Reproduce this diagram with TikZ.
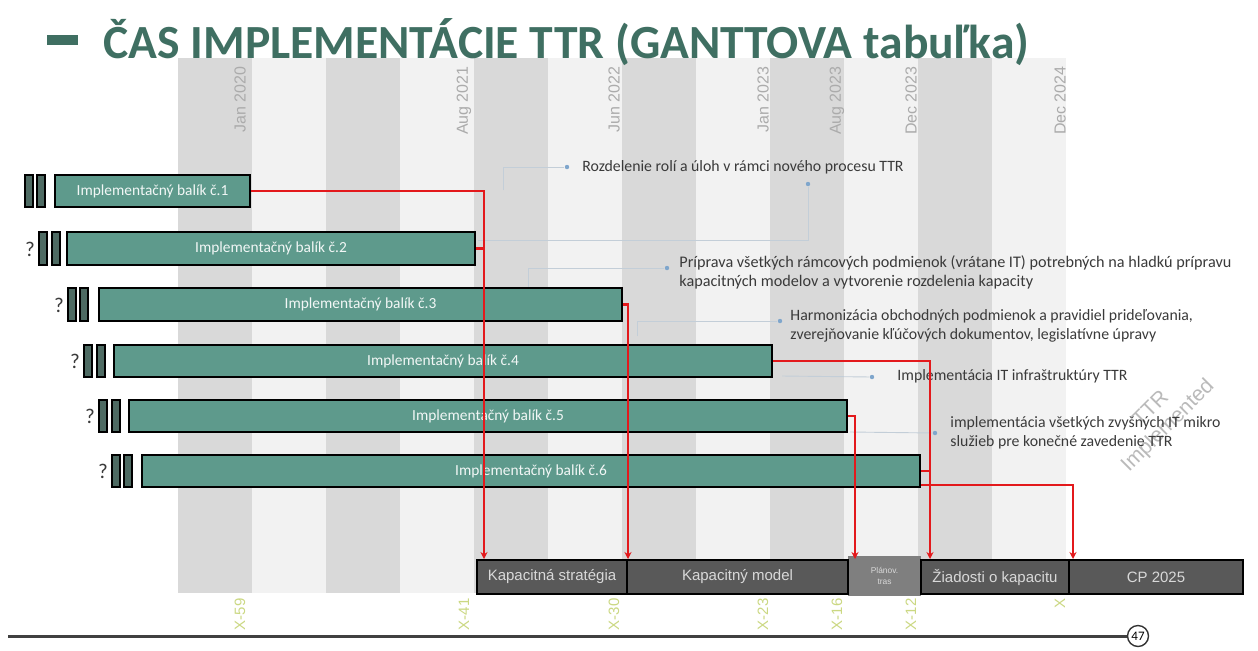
\documentclass[tikz,border=0pt]{standalone}
\usepackage{fontspec}
\setmainfont{Carlito}
\newfontfamily\arialf{Liberation Sans}
\usetikzlibrary{fit,arrows.meta}
\definecolor{titlecol}{HTML}{3F6F62}
\definecolor{barfill}{HTML}{5E9A8C}
\definecolor{prefill}{HTML}{4E6B63}
\definecolor{stripeD}{HTML}{D9D9D9}
\definecolor{stripeL}{HTML}{F2F2F2}
\definecolor{datecol}{HTML}{ABABAB}
\definecolor{xcol}{HTML}{CBD882}
\definecolor{redc}{HTML}{E3191C}
\definecolor{segcol}{HTML}{595959}
\definecolor{segcolL}{HTML}{7F7F7F}
\definecolor{anncol}{HTML}{3A3A3A}
\definecolor{thincol}{HTML}{C3CED8}
\definecolor{dotcol}{HTML}{7FA6CC}
\begin{document}
\begin{tikzpicture}[x=0.5pt,y=-0.5pt,
  bar/.style={draw=black, line width=1pt, fill=barfill, inner sep=0pt},
  barlbl/.style={text=white!92!barfill, inner sep=0pt, font=\fontsize{7.7}{8.5}\selectfont},
  prebox/.style={draw=black, line width=1pt, fill=prefill, inner sep=0pt},
  qm/.style={text=anncol, font=\fontsize{10.5}{12}\selectfont, inner sep=0pt},
  seg/.style={draw=black, line width=1pt, fill=segcol, inner sep=0pt},
  seglbl/.style={text=white!85!black, inner sep=0pt, font=\arialf\fontsize{7.5}{8.5}\selectfont},
  segL/.style={fill=segcolL, inner sep=0pt},
  segLlbl/.style={text=white!85!black, align=center, inner sep=0pt, font=\arialf\fontsize{4.2}{5.2}\selectfont},
  datelbl/.style={rotate=90, anchor=east, text=datecol, inner sep=0pt, font=\arialf\fontsize{8}{9}\selectfont},
  xlbl/.style={rotate=90, anchor=east, text=xcol, inner sep=0pt, font=\arialf\fontsize{7.5}{8.5}\selectfont},
  ann/.style={anchor=west, text=anncol, align=left, inner sep=0pt, font=\fontsize{7.9}{9.5}\selectfont},
  redline/.style={draw=redc, line width=1.2pt},
  redarrow/.style={redline, -{Stealth[length=3.5pt,width=3.5pt]}},
  thinline/.style={draw=thincol, line width=0.45pt},
  bullet/.style={circle, fill=dotcol, inner sep=0pt, minimum size=2.2pt},
]
\useasboundingbox (0,0) rectangle (1258,650);
\fill[white] (0,0) rectangle (1258,650);

% background stripes
\foreach \i in {0,2,...,10} \fill[stripeD] ({178+74*\i},58) rectangle ({178+74*(\i+1)},593);
\foreach \i in {1,3,...,11} \fill[stripeL] ({178+74*\i},58) rectangle ({178+74*(\i+1)},593);

% title
\fill[titlecol] (47,35) rectangle (78,45);
\node[anchor=base west, text=titlecol, inner sep=0pt, font=\bfseries\fontsize{23.8}{27}\selectfont] (title) at (103,58)
  {ČAS IMPLEMENTÁCIE TTR (GANTTOVA tabuľka)};

% date labels
\node[datelbl] (d2020) at (240,66) {Jan 2020};
\node[datelbl] (d2021) at (464,66) {Aug 2021};
\node[datelbl] (d2022) at (614,66) {Jun 2022};
\node[datelbl] (d2023a) at (763,66) {Jan 2023};
\node[datelbl] (d2023b) at (837,66) {Aug 2023};
\node[datelbl] (d2023c) at (911,66) {Dec 2023};
\node[datelbl] (d2024) at (1060,66) {Dec 2024};

% watermark
\node[rotate=45, text=black!27, align=center, inner sep=0pt, font=\arialf\fontsize{10.5}{12}\selectfont] (wm) at (1160,418) {TTR\\Implemented};

% thin annotation connectors
\coordinate (t1) at (503,190);
\coordinate (t2) at (478,240);
\coordinate (t3) at (528,289);
\coordinate (t4) at (637,336);
\coordinate (t5) at (782,376);
\coordinate (t6) at (850,432);
\node[bullet] (p1) at (567,167) {};
\node[bullet] (p1b) at (808,184) {};
\node[bullet] (p2) at (667,268) {};
\node[bullet] (p3) at (780,321) {};
\node[bullet] (p4) at (872,377) {};
\node[bullet] (p5) at (935,433) {};
\draw[thinline] (t1) |- (p1);
\draw[thinline] (t2) -| (p1b);
\draw[thinline] (t3) |- (p2);
\draw[thinline] (t4) |- (p3);
\draw[thinline] (t5) -- (p4);
\draw[thinline] (t6) -- (p5);

% annotations
\node[ann] (n1) at (582,167) {Rozdelenie rolí a úloh v rámci nového procesu TTR};
\node[ann, font=\fontsize{8.1}{9.6}\selectfont] (n2) at (679,272) {Príprava všetkých rámcových podmienok (vrátane IT) potrebných na hladkú prípravu\\kapacitných modelov a vytvorenie rozdelenia kapacity};
\node[ann] (n3) at (790,326) {Harmonizácia obchodných podmienok a pravidiel prideľovania,\\zverejňovanie kľúčových dokumentov, legislatívne úpravy};
\node[ann] (n4) at (897,376) {Implementácia IT infraštruktúry TTR};
\node[ann] (n5) at (950,433) {implementácia všetkých zvyšných IT mikro\\služieb pre konečné zavedenie TTR};

% bars
\node[bar, fit={(55,175)(250,207)}] (b1) {};
\node[bar, fit={(67,232)(475,265)}] (b2) {};
\node[bar, fit={(99,288)(622,321)}] (b3) {};
\node[bar, fit={(114,345)(772,377)}] (b4) {};
\node[bar, fit={(129,400)(847,432)}] (b5) {};
\node[bar, fit={(142,455)(920,487)}] (b6) {};
\node[barlbl] (l1) at (b1.center) {Implementačný balík č.1};
\node[barlbl] (l2) at (b2.center) {Implementačný balík č.2};
\node[barlbl] (l3) at (b3.center) {Implementačný balík č.3};
\node[barlbl] (l4) at (b4.center) {Implementačný balík č.4};
\node[barlbl] (l5) at (b5.center) {Implementačný balík č.5};
\node[barlbl] (l6) at (b6.center) {Implementačný balík č.6};

% small boxes before bars
\node[prebox, fit={(25,175)(33,207)}] (b1a) {};
\node[prebox, fit={(37,175)(45,207)}] (b1b) {};
\node[prebox, fit={(39,232)(47,265)}] (b2a) {};
\node[prebox, fit={(52,232)(60,265)}] (b2b) {};
\node[prebox, fit={(68,288)(76,321)}] (b3a) {};
\node[prebox, fit={(80,288)(88,321)}] (b3b) {};
\node[prebox, fit={(84,345)(92,377)}] (b4a) {};
\node[prebox, fit={(97,345)(105,377)}] (b4b) {};
\node[prebox, fit={(99,400)(107,432)}] (b5a) {};
\node[prebox, fit={(112,400)(120,432)}] (b5b) {};
\node[prebox, fit={(112,455)(120,487)}] (b6a) {};
\node[prebox, fit={(124,455)(132,487)}] (b6b) {};

% question marks
\node[qm] (q2) at (30,249) {?};
\node[qm] (q3) at (59,305) {?};
\node[qm] (q4) at (75,361) {?};
\node[qm] (q5) at (90,416) {?};
\node[qm] (q6) at (103,471) {?};

% bottom phase bar
\node[segL, fit={(848,556)(921,596)}] (s3) {};
\node[seg, fit={(477,560)(627,594)}] (s1) {};
\node[seg, fit={(627,560)(848,594)}] (s2) {};
\node[seg, fit={(921,560)(1069,594)}] (s4) {};
\node[seg, fit={(1069,560)(1243,594)}] (s5) {};
\node[seglbl] (sl1) at (s1.center) {Kapacitná stratégia};
\node[seglbl] (sl2) at (s2.center) {Kapacitný model};
\node[segLlbl] (sl3) at (s3.center) {Plánov.\\tras};
\node[seglbl] (sl4) at (s4.center) {Žiadosti o kapacitu};
\node[seglbl] (sl5) at (s5.center) {CP 2025};

% red connectors
\coordinate (k1) at (484,559);
\coordinate (k3) at (628,559);
\coordinate (k5) at (855,559);
\coordinate (k4) at (930,559);
\coordinate (k7) at (1073,559);
\draw[redarrow] (b1.east) -| (k1);
\draw[redline] (b2.east) -- (b2.east -| k1);
\draw[redarrow] (b3.east) -| (k3);
\draw[redarrow] (b4.east) -| (k4);
\draw[redarrow] (b5.east) -| (k5);
\draw[redline] (b6.east) -- (b6.east -| k4);
\draw[redarrow] ([yshift=1.5pt]b6.south east) -| (k7);

% X labels
\node[xlbl] (x59) at (240,598) {X-59};
\node[xlbl] (x41) at (464,598) {X-41};
\node[xlbl] (x30) at (614,598) {X-30};
\node[xlbl] (x23) at (763,598) {X-23};
\node[xlbl] (x16) at (837,598) {X-16};
\node[xlbl] (x12) at (911,598) {X-12};
\node[xlbl] (x0) at (1060,598) {X};

% footer line and page number
\node[circle, draw=black!80, line width=0.7pt, inner sep=0pt, minimum size=10.5pt,
  font=\fontsize{6.5}{7}\selectfont] (pg) at (1138,636) {47};
\coordinate (fl) at (8,636);
\draw[draw=black!75, line width=1.5pt] (fl) -- (pg.west);
\end{tikzpicture}
\end{document}
